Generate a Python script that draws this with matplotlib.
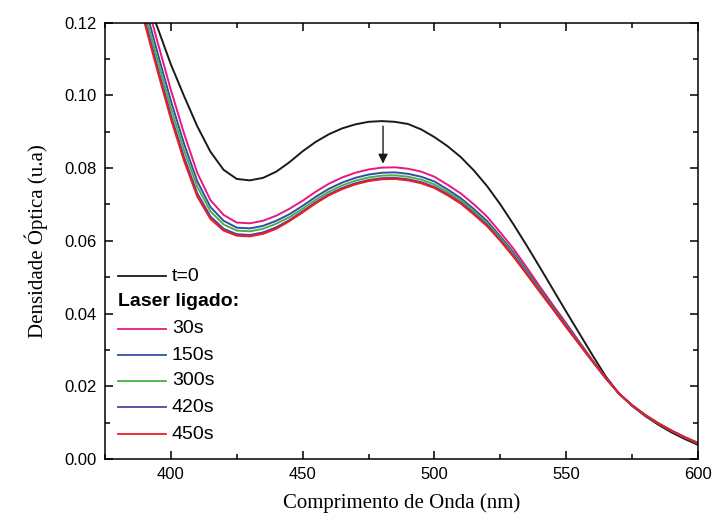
import matplotlib
matplotlib.use('Agg')
import matplotlib.pyplot as plt
from matplotlib.ticker import MultipleLocator, FormatStrFormatter

# wavelength grid (nm), 385 to 600 in 5 nm steps
wl = [385, 390, 395, 400, 405, 410, 415, 420, 425, 430, 435, 440, 445, 450, 455,
      460, 465, 470, 475, 480, 485, 490, 495, 500, 505, 510, 515, 520, 525, 530,
      535, 540, 545, 550, 555, 560, 565, 570, 575, 580, 585, 590, 595, 600]

# absorbance curves
t0 = [0.138, 0.128, 0.1185, 0.1085, 0.0998, 0.0915, 0.0845, 0.0795, 0.0770, 0.0766, 0.0773, 0.0790, 0.0816, 0.0846, 0.0872,
      0.0893, 0.0909, 0.0920, 0.0927, 0.0929, 0.0927, 0.0921, 0.0906, 0.0885, 0.0860, 0.0830, 0.0793, 0.0750, 0.0700, 0.0645,
      0.0587, 0.0527, 0.0466, 0.0405, 0.0345, 0.0285, 0.0227, 0.0180, 0.0146, 0.0118, 0.0094, 0.0073, 0.0055, 0.0039]
s30 = [0.141, 0.128, 0.1145, 0.1015, 0.0895, 0.0787, 0.0712, 0.0671, 0.0650, 0.0648, 0.0655, 0.0669, 0.0688, 0.0710, 0.0735,
       0.0757, 0.0774, 0.0787, 0.0796, 0.0801, 0.0802, 0.0798, 0.0790, 0.0776, 0.0754, 0.0730, 0.0700, 0.0666, 0.0623, 0.0578,
       0.0527, 0.0474, 0.0423, 0.0373, 0.0322, 0.0271, 0.0223, 0.0180, 0.0147, 0.0120, 0.0097, 0.0077, 0.0059, 0.0043]
s150 = [0.138, 0.125, 0.1115, 0.0985, 0.0867, 0.0764, 0.0693, 0.0655, 0.0636, 0.0634, 0.0641, 0.0655, 0.0673, 0.0696, 0.0721,
        0.0743, 0.0760, 0.0773, 0.0782, 0.0787, 0.0788, 0.0784, 0.0776, 0.0763, 0.0741, 0.0717, 0.0687, 0.0654, 0.0612, 0.0568,
        0.0518, 0.0467, 0.0418, 0.0369, 0.0319, 0.0270, 0.0223, 0.0180, 0.0147, 0.0120, 0.0097, 0.0077, 0.0059, 0.0043]
s300 = [0.136, 0.123, 0.1095, 0.0965, 0.0849, 0.0749, 0.0681, 0.0645, 0.0628, 0.0626, 0.0633, 0.0647, 0.0665, 0.0688, 0.0713,
        0.0735, 0.0752, 0.0765, 0.0774, 0.0779, 0.0780, 0.0776, 0.0768, 0.0755, 0.0734, 0.0711, 0.0681, 0.0648, 0.0607, 0.0563,
        0.0514, 0.0464, 0.0415, 0.0366, 0.0317, 0.0269, 0.0222, 0.0180, 0.0148, 0.0121, 0.0098, 0.0078, 0.0060, 0.0044]
s420 = [0.134, 0.121, 0.1075, 0.0945, 0.0830, 0.0731, 0.0667, 0.0633, 0.0618, 0.0616, 0.0623, 0.0637, 0.0657, 0.0681, 0.0706,
        0.0728, 0.0745, 0.0758, 0.0767, 0.0772, 0.0773, 0.0769, 0.0761, 0.0748, 0.0728, 0.0705, 0.0675, 0.0643, 0.0602, 0.0558,
        0.0510, 0.0461, 0.0413, 0.0364, 0.0316, 0.0268, 0.0222, 0.0180, 0.0148, 0.0121, 0.0098, 0.0078, 0.0060, 0.0044]
s450 = [0.133, 0.120, 0.1065, 0.0935, 0.0820, 0.0722, 0.0660, 0.0628, 0.0614, 0.0612, 0.0619, 0.0633, 0.0654, 0.0678, 0.0703,
        0.0725, 0.0742, 0.0755, 0.0764, 0.0769, 0.0770, 0.0766, 0.0758, 0.0745, 0.0725, 0.0702, 0.0672, 0.0640, 0.0600, 0.0556,
        0.0508, 0.0459, 0.0411, 0.0362, 0.0315, 0.0268, 0.0222, 0.0180, 0.0148, 0.0121, 0.0098, 0.0078, 0.0060, 0.0044]

labels = ['30s', '150s', '300s', '420s', '450s']
series = [s30, s150, s300, s420, s450]
colors = ['#E8197D', '#3050A8', '#4CB040', '#5A3E9E', '#EE1C24']

fig = plt.figure(figsize=(7.14, 5.2), dpi=100)
ax = fig.add_axes([0.147, 0.1173, 0.8306, 0.8394])

ax.plot(wl, t0, color='#1a1a1a', lw=1.4, solid_joinstyle='round')
for y, c in zip(series, colors):
    ax.plot(wl, y, color=c, lw=1.4, solid_joinstyle='round')

# arrow showing the decrease
ax.annotate('', xy=(480.5, 0.0812), xytext=(480.5, 0.0915),
            arrowprops=dict(arrowstyle='-|>', color='#1a1a1a', lw=1.0,
                            mutation_scale=14, shrinkA=0, shrinkB=0))

ax.set_xlim(375, 600)
ax.set_ylim(0, 0.12)
ax.xaxis.set_major_locator(MultipleLocator(50))
ax.xaxis.set_minor_locator(MultipleLocator(25))
ax.yaxis.set_major_locator(MultipleLocator(0.02))
ax.yaxis.set_minor_locator(MultipleLocator(0.01))
ax.yaxis.set_major_formatter(FormatStrFormatter('%.2f'))
ax.tick_params(which='both', direction='in', top=True, right=True, width=1.1)
ax.tick_params(which='major', length=6, labelsize=12, pad=6)
ax.tick_params(which='minor', length=3.5)
for lab in ax.get_xticklabels() + ax.get_yticklabels():
    lab.set_family('Liberation Sans')
for s in ax.spines.values():
    s.set_linewidth(1.1)

ax.set_xlabel('Comprimento de Onda (nm)', family='Liberation Serif', fontsize=15, labelpad=8)
ax.set_ylabel('Densidade Óptica (u.a)', family='Liberation Serif', fontsize=15, labelpad=12)

# legend drawn by hand so the bold header has no handle
ly = [0.419, 0.298, 0.238, 0.179, 0.119, 0.057]
ax.plot([0.022, 0.103], [ly[0]] * 2, color='#1a1a1a', lw=1.3, transform=ax.transAxes)
ax.text(0.113, ly[0], 't=0', transform=ax.transAxes, va='center', fontsize=14, family='Liberation Sans')
ax.text(0.022, 0.36, 'Laser ligado:', transform=ax.transAxes, va='center', fontsize=14,
        family='Liberation Sans', fontweight='bold')
for yy, lab, c in zip(ly[1:], labels, colors):
    ax.plot([0.022, 0.103], [yy, yy], color=c, lw=1.3, transform=ax.transAxes)
    ax.text(0.113, yy, lab, transform=ax.transAxes, va='center', fontsize=14, family='Liberation Sans')

fig.savefig('out.png', dpi=100)
